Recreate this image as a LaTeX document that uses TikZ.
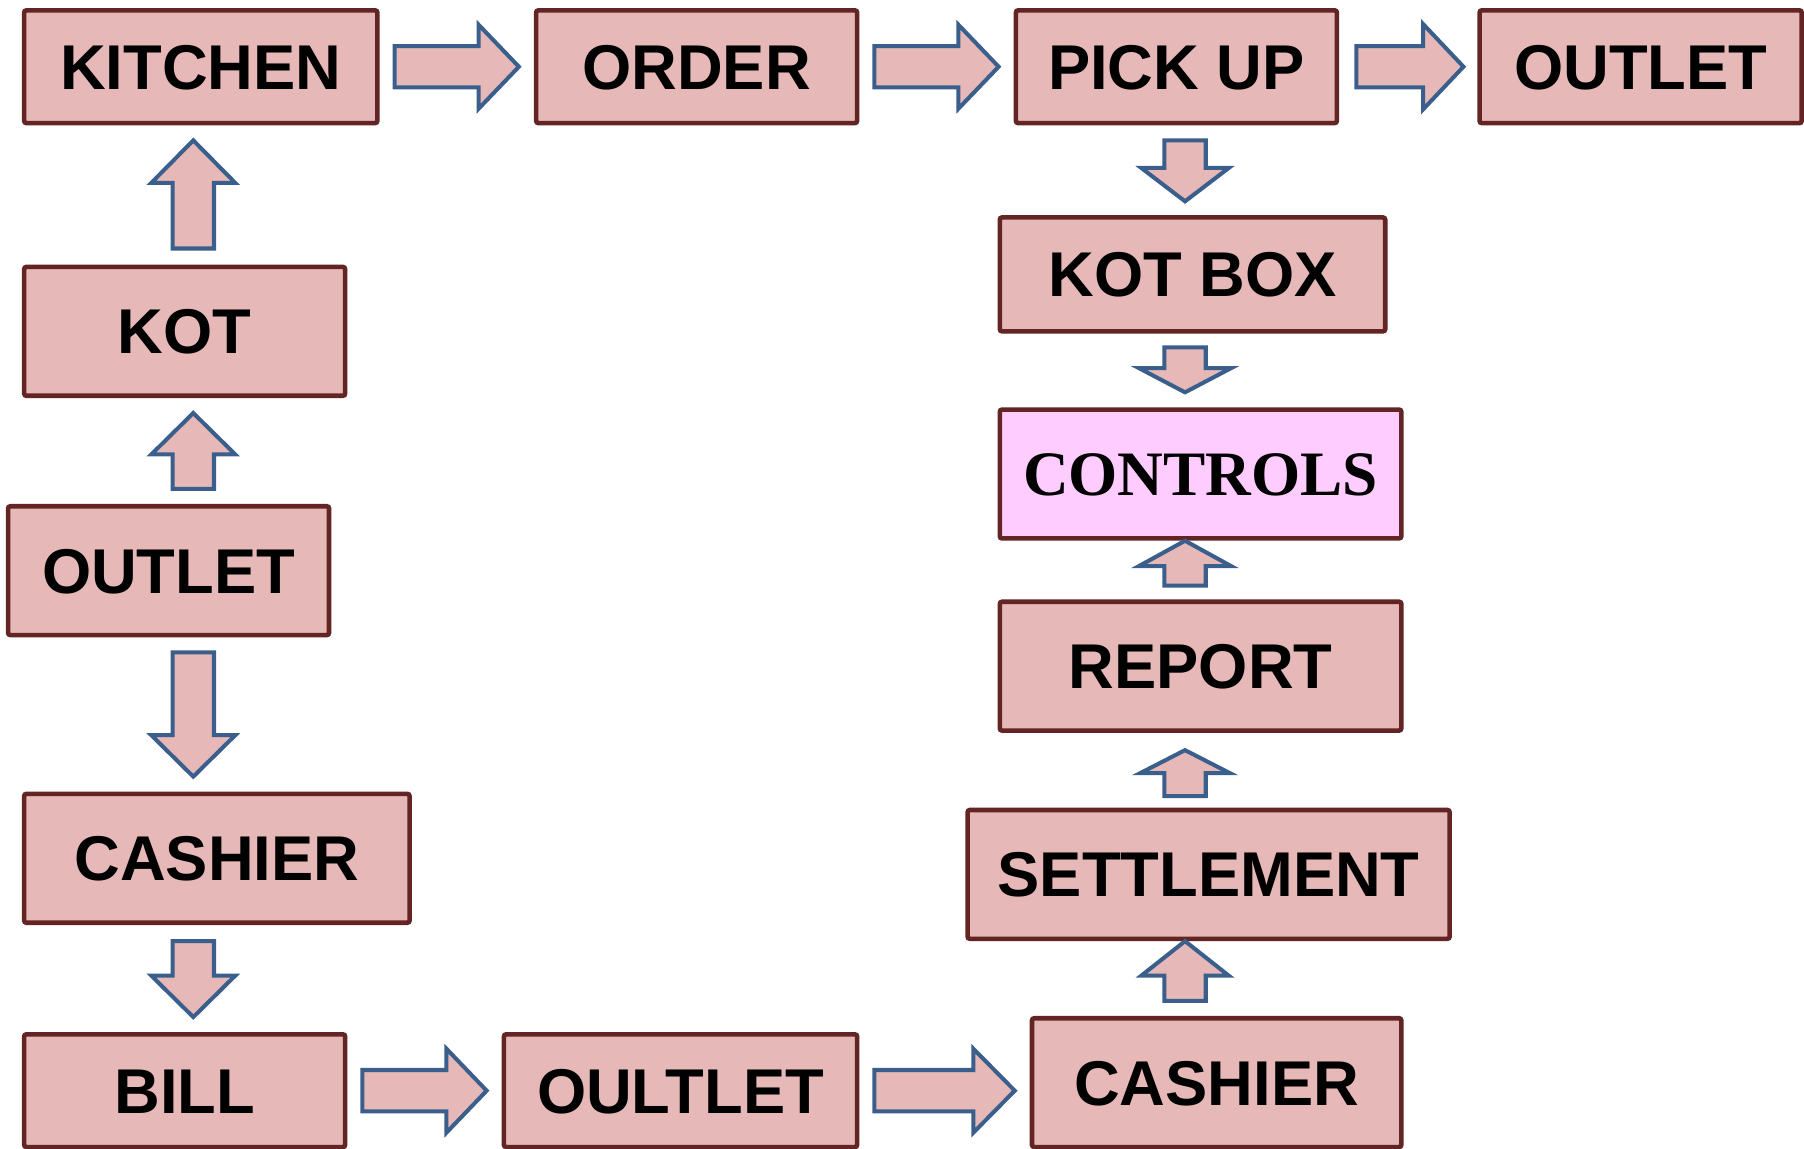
\documentclass[tikz,border=0pt]{standalone}
\usepackage{fontspec}
\setmainfont{Liberation Sans}
\newfontfamily\serifbf{Liberation Serif}
\usetikzlibrary{calc,positioning}
\definecolor{boxfill}{HTML}{E6B8B7}
\definecolor{boxline}{HTML}{632523}
\definecolor{arrline}{HTML}{3A5F8C}
\definecolor{ctrlfill}{HTML}{FFCCFF}

\begin{document}
\begin{tikzpicture}[x=1pt,y=-1pt]
  \useasboundingbox (0,0) rectangle (1568,998);
  \newcommand{\shaftw}{18pt};
  % block arrow: start, tip, head length, head half width
  \newcommand{\blockarrow}[4]{
    \coordinate (bs) at #1;
    \coordinate (be) at #2;
    \coordinate (bh) at ($(be)!#3!(bs)$);
    \draw[arrowbox] ($(bs)!\shaftw!90:(be)$) -- ($(bh)!\shaftw!90:(be)$)
      -- ($(bh)!#4!90:(be)$) -- (be) -- ($(bh)!#4!-90:(be)$)
      -- ($(bh)!\shaftw!-90:(be)$) -- ($(bs)!\shaftw!-90:(be)$) -- cycle;
  }
  \tikzstyle{box}=[draw=boxline, fill=boxfill, line width=4pt, rounded corners=2pt,
    inner sep=0pt, text height=39pt, text depth=0pt,
    font=\fontsize{55}{60}\selectfont\bfseries];
  \tikzstyle{arrowbox}=[draw=arrline, fill=boxfill, line width=3.5pt, line join=miter];
  \coordinate (lcol) at (168,0);
  \coordinate (rcol) at (1030,0);
  \foreach \n/\x/\y/\w/\h/\t in {kitchen/174.5/58/307/98/KITCHEN, order/605.5/58/279/98/ORDER,
      pickup/1022.5/58/279/98/PICK UP, outleta/1426/58/280/98/OUTLET,
      kot/160.5/288/279/112/KOT, outletb/146.5/496/279/112/OUTLET,
      cashiera/188.5/746/335/112/CASHIER, bill/160.5/948/279/98/BILL,
      oultlet/591.5/948/307/98/OULTLET, cashierb/1057.5/941/321/112/CASHIER,
      kotbox/1036.5/238.5/335/99/KOT BOX, report/1043.5/579/349/112/REPORT,
      settlement/1050.5/760/419/112/SETTLEMENT}{
    \node[box, minimum width=\w, minimum height=\h] (\n) at (\x,\y) {\t};
  }
  \node[box, fill=ctrlfill, minimum width=349, minimum height=112, text height=36.5pt,
    font=\fontsize{55}{60}\serifbf\bfseries] (controls) at (1043.5,412) {CONTROLS};
  % top row
  \blockarrow{($(kitchen.east)+(13,0)$)}{($(order.west)+(-13,0)$)}{35pt}{36.5pt}
  \blockarrow{($(order.east)+(13,0)$)}{($(pickup.west)+(-13,0)$)}{35pt}{36.5pt}
  \blockarrow{($(pickup.east)+(15,0)$)}{($(outleta.west)+(-12,0)$)}{35pt}{37pt}
  % left column
  \blockarrow{($(kot.north -| lcol)+(0,-14)$)}{($(kitchen.south -| lcol)+(0,13)$)}{37pt}{36.5pt}
  \blockarrow{($(outletb.north -| lcol)+(0,-13)$)}{($(kot.south -| lcol)+(0,13)$)}{36pt}{36.5pt}
  \blockarrow{($(outletb.south -| lcol)+(0,13)$)}{($(cashiera.north -| lcol)+(0,-13)$)}{36pt}{36.5pt}
  \blockarrow{($(cashiera.south -| lcol)+(0,14)$)}{($(bill.north -| lcol)+(0,-13)$)}{36pt}{36.5pt}
  % bottom row
  \blockarrow{($(bill.east)+(13,0)$)}{($(oultlet.west)+(-13,0)$)}{35pt}{36.5pt}
  \blockarrow{($(oultlet.east)+(13,0)$)}{($(cashierb.west |- oultlet.east)+(-13,0)$)}{36pt}{36.5pt}
  % right column
  \blockarrow{($(pickup.south -| rcol)+(0,13)$)}{($(kotbox.north -| rcol)+(0,-12)$)}{29pt}{38pt}
  \blockarrow{($(kotbox.south -| rcol)+(0,12)$)}{($(controls.north -| rcol)+(0,-13)$)}{21pt}{40pt}
  \blockarrow{($(report.north -| rcol)+(0,-12)$)}{(controls.south -| rcol)}{22pt}{40pt}
  \blockarrow{($(settlement.north -| rcol)+(0,-10)$)}{($(report.south -| rcol)+(0,15)$)}{20pt}{39pt}
  \blockarrow{($(cashierb.north -| rcol)+(0,-13)$)}{(settlement.south -| rcol)}{30pt}{38pt}
\end{tikzpicture}
\end{document}
